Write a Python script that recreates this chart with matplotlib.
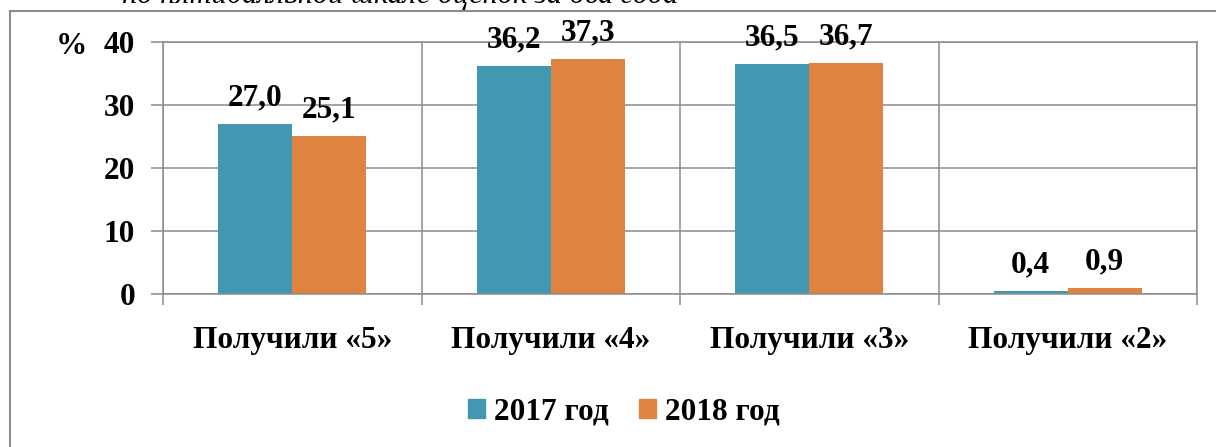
import matplotlib.pyplot as plt
from matplotlib.patches import Patch
from matplotlib.lines import Line2D
import numpy as np

# Данные
categories = ['Получили «5»', 'Получили «4»', 'Получили «3»', 'Получили «2»']
values_2017 = [27.0, 36.2, 36.5, 0.4]
values_2018 = [25.1, 37.3, 36.7, 0.9]
series_names = ['2017 год', '2018 год']
colors = ['#4398B1', '#DE8440']
grid_color = '#8C8C8C'

plt.rcParams['font.family'] = ['Liberation Serif', 'DejaVu Serif']
plt.rcParams['font.weight'] = 'bold'

W, H = 1216, 447
fig = plt.figure(figsize=(W / 100, H / 100), dpi=100)
ax = fig.add_axes([163 / W, 1 - 294 / H, (1197 - 163) / W, (294 - 42) / H])

x = np.arange(len(categories))
bar_w = 0.286
bars1 = ax.bar(x - bar_w / 2, values_2017, bar_w, color=colors[0], zorder=2)
bars2 = ax.bar(x + bar_w / 2, values_2018, bar_w, color=colors[1], zorder=2)

# Подписи значений
for bars in (bars1, bars2):
    for b in bars:
        v = b.get_height()
        ax.annotate(f'{v:.1f}'.replace('.', ','), (b.get_x() + b.get_width() / 2, v),
                    xytext=(0, 13.5), textcoords='offset points',
                    ha='center', va='baseline', fontsize=22.5, fontweight='bold')

ax.set_xlim(-0.5, len(categories) - 0.5)
ax.set_ylim(0, 40)
ax.set_yticks([0, 10, 20, 30, 40])
ax.set_xticks(x)
ax.set_xticklabels(categories, fontsize=22.5, fontweight='bold')
ax.set_xticks(np.arange(-0.5, len(categories)), minor=True)

ax.tick_params(axis='y', length=9, width=1.1, color=grid_color, pad=11, labelsize=22.5)
ax.tick_params(axis='x', which='major', length=0, pad=23)
ax.tick_params(axis='x', which='minor', length=8, width=1.1, color=grid_color)
for lbl in ax.get_yticklabels():
    lbl.set_fontweight('bold')

ax.grid(axis='y', color=grid_color, linewidth=1.1, zorder=0)
ax.grid(axis='x', which='minor', color=grid_color, linewidth=1.1, zorder=0)
ax.set_axisbelow(True)
for s in ax.spines.values():
    s.set_color(grid_color)
    s.set_linewidth(1.1)

fig.text(71 / W, 1 - 47 / H, '%', ha='center', va='center', fontsize=22.5, fontweight='bold')

# Легенда
handles = [Patch(color=c) for c in colors]
fig.legend(handles, series_names, loc='center', bbox_to_anchor=(624 / W, 1 - 412 / H),
           ncol=2, frameon=False, handlelength=0.55, handleheight=0.55,
           handletextpad=0.3, columnspacing=0.95, prop={'weight': 'bold', 'size': 22.5})

# Рамка диаграммы
fig.add_artist(Line2D([10 / W, 1], [1 - 11 / H, 1 - 11 / H], color=grid_color, linewidth=1.5))
fig.add_artist(Line2D([10 / W, 10 / W], [1 - 11 / H, 0], color=grid_color, linewidth=1.5))

# Обрезанная подпись сверху
fig.text(678 / W, 1 - 3 / H, 'по пятибалльной шкале оценок за два года', ha='right',
         va='baseline', fontsize=22, fontweight='normal', style='italic')

fig.savefig('out.png', dpi=100)
